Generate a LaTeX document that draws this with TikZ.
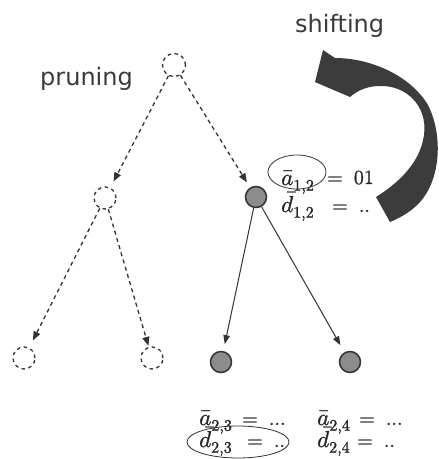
\documentclass[tikz,border=0pt]{standalone}
\usepackage{fontspec}
\usepackage{unicode-math}
\setmathfont{Latin Modern Math}[FakeBold=1.2]
\newfontfamily\wordfont{DejaVu Sans}
\usetikzlibrary{arrows.meta}
\definecolor{ink}{HTML}{333333}
\definecolor{mathink}{HTML}{262626}
\definecolor{wordink}{HTML}{3A3A3A}
\definecolor{nodegray}{HTML}{8C8C8C}
\definecolor{bigarrow}{HTML}{3C3C3C}
\tikzset{
  prunednode/.style={circle, draw=ink, line width=1.3pt, dash pattern=on 3.5pt off 3.5pt, minimum size=22pt, inner sep=0pt},
  keptnode/.style={circle, draw=ink, fill=nodegray, line width=1.5pt, minimum size=21pt, inner sep=0pt},
  dashedge/.style={draw=ink, line width=1.3pt, dash pattern=on 4pt off 3.5pt, -{Triangle[length=9pt,width=7pt]}},
  solidedge/.style={draw=ink, line width=1pt, -{Triangle[length=9pt,width=6.5pt]}},
  lbl/.style={text=mathink, font=\fontsize{20}{24}\selectfont, inner sep=0pt, anchor=base west},
  lblbig/.style={lbl, font=\fontsize{23}{27}\selectfont},
  word/.style={text=wordink, font=\wordfont\fontsize{24}{28}\selectfont, inner sep=0pt, anchor=base west},
  ring/.style={draw=ink, line width=0.8pt}
}
\begin{document}
\begin{tikzpicture}[x=1pt,y=-1pt]
\useasboundingbox (0,0) rectangle (439,459);
\fill[white] (0,0) rectangle (439,459);

% words
\node[word] (pruning) at (40,85) {pruning};
\node[word] (shifting) at (295,32) {shifting};

% big curved arrow
\fill[bigarrow] (315,82) -- (323,50) -- (335,58)
  .. controls (370,58) and (410,75) .. (428,105)
  .. controls (443,135) and (440,175) .. (424,197)
  .. controls (415,210) and (400,218) .. (390,222)
  -- (376,197)
  .. controls (395,185) and (420,165) .. (424,135)
  .. controls (428,105) and (405,85) .. (380,86)
  .. controls (368,86) and (358,90) .. (350,97)
  -- cycle;

% nodes
\node[prunednode, minimum size=23pt] (root) at (174,65) {};
\node[prunednode] (lc) at (105,198) {};
\node[keptnode] (rc) at (256,197) {};
\node[prunednode] (ll) at (24,358) {};
\node[prunednode] (lr) at (152,358) {};
\node[keptnode] (rl) at (221,362) {};
\node[keptnode] (rr) at (350,362) {};

% connectors
\draw[dashedge, shorten >=7pt] (root) -- (lc);
\draw[dashedge, shorten >=6pt] (root) -- (rc);
\draw[dashedge, shorten >=8pt] (lc) -- (ll);
\draw[dashedge, shorten >=1pt] (lc) -- (lr);
\draw[solidedge, shorten >=7pt] (rc) -- (rl);
\draw[solidedge, shorten >=8pt] (rc) -- (rr);

% labels of the right child
\node[lblbig] (a12) at (281,185) {$\bar{a}_{1,2}$};
\node[lbl] (a12v) at (327,184) {$=\;01$};
\node[lblbig] (d12) at (281,212) {$\bar{d}_{1,2}$};
\node[lbl] (d12v) at (332,212) {$=\;..$};
\draw[ring] (297,172) ellipse [x radius=29pt, y radius=17pt];

% labels of the leaves
\node[lblbig] (a23) at (199,425) {$\bar{a}_{2,3}$};
\node[lbl] (a23v) at (242,425) {$=\;...$};
\node[lblbig] (d23) at (199,447) {$\bar{d}_{2,3}$};
\node[lbl] (d23v) at (247,447) {$=\;..$};
\draw[ring] (238,442) ellipse [x radius=51pt, y radius=16pt];

\node[lblbig] (a24) at (317,425) {$\bar{a}_{2,4}$};
\node[lbl] (a24v) at (359,425) {$=\;...$};
\node[lblbig] (d24) at (317,447) {$\bar{d}_{2,4}$};
\node[lbl] (d24v) at (357,447) {$=\;..$};
\end{tikzpicture}
\end{document}
